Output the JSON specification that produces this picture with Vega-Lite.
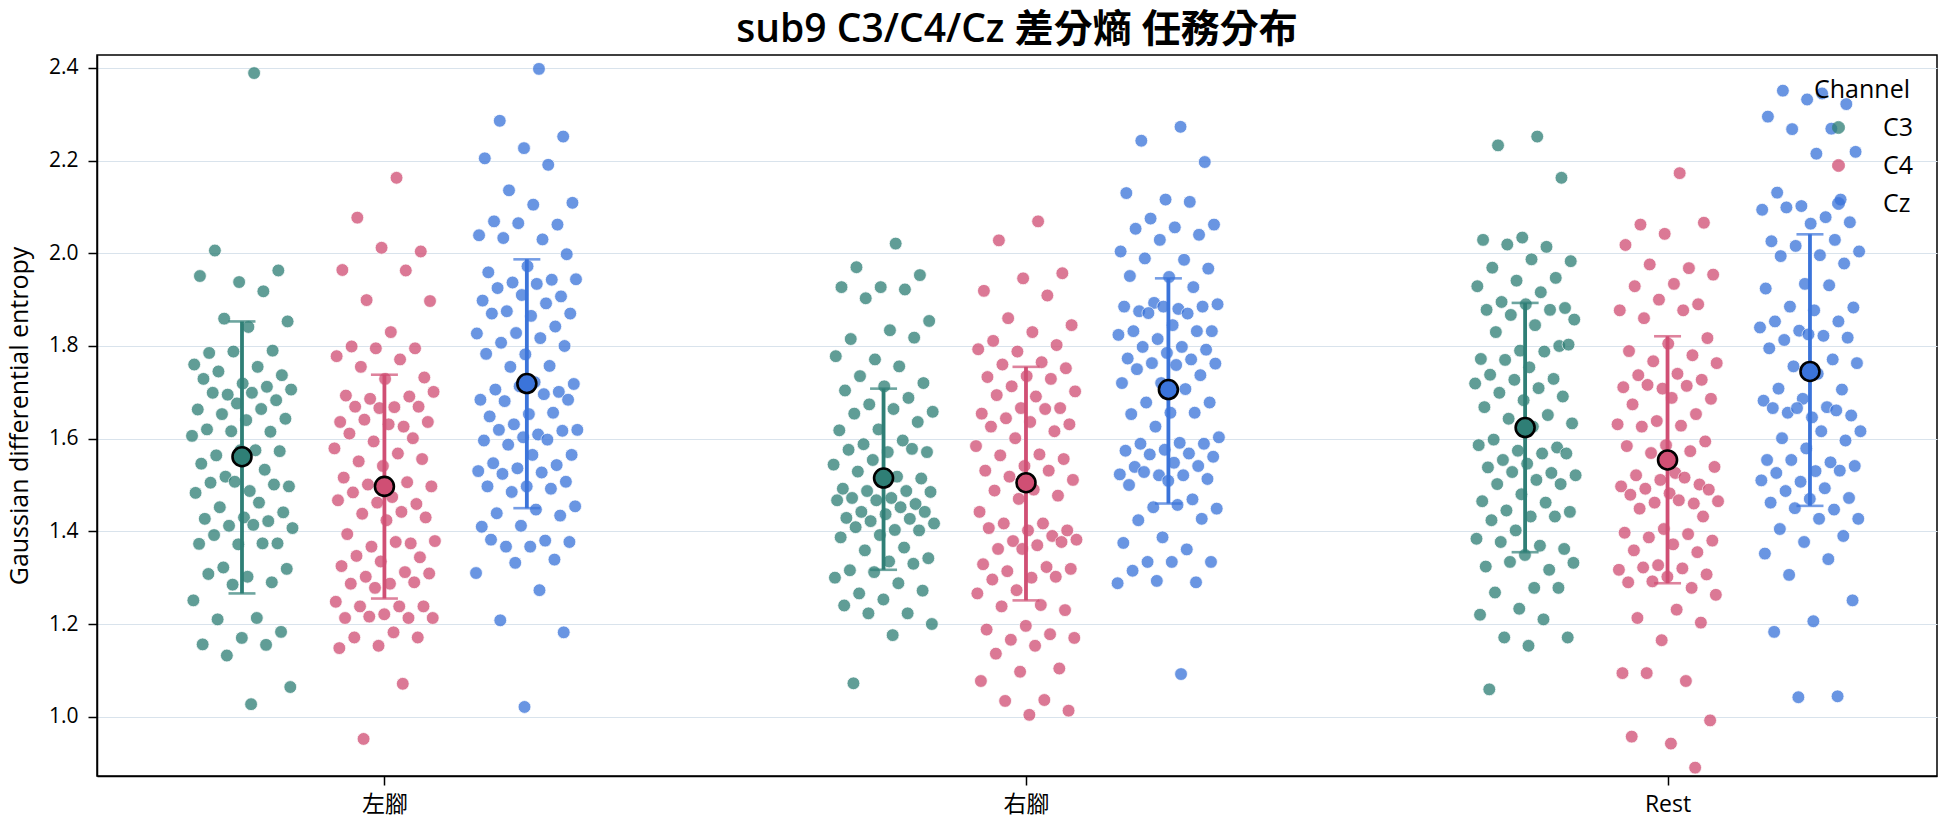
{
  "$schema": "https://vega.github.io/schema/vega-lite/v6.json",
  "width": 1840,
  "height": 721,
  "autosize": {"type": "none"},
  "padding": {"left": 97, "top": 55, "right": 7, "bottom": 51},
  "background": "white",
  "title": {
    "text": "sub9 C3/C4/Cz 差分熵 任務分布",
    "font": "Open Sans, Noto Sans CJK TC",
    "fontSize": 39,
    "fontWeight": 600,
    "color": "black",
    "anchor": "middle",
    "offset": 5
  },
  "config": {
    "view": {"stroke": "black", "strokeWidth": 1.5},
    "axis": {
      "labelFont": "Open Sans, Noto Sans CJK TC",
      "titleFont": "Open Sans, Noto Sans CJK TC",
      "labelFontSize": 21,
      "titleFontSize": 25,
      "titleFontWeight": "normal",
      "labelColor": "black",
      "titleColor": "black",
      "domainColor": "black",
      "domainWidth": 1.5,
      "tickColor": "black",
      "tickWidth": 1.5,
      "tickSize": 9
    },
    "legend": {
      "labelFont": "Open Sans",
      "titleFont": "Open Sans"
    }
  },
  "datasets": {
    "pts": [
      {"task":"左腳","ch":"C3","v":2.389},{"task":"左腳","ch":"C3","v":2.006},{"task":"左腳","ch":"C3","v":1.963},{"task":"左腳","ch":"C3","v":1.938},{"task":"左腳","ch":"C3","v":1.951},{"task":"左腳","ch":"C3","v":1.918},{"task":"左腳","ch":"C3","v":1.859},{"task":"左腳","ch":"C3","v":1.853},{"task":"左腳","ch":"C3","v":1.841},{"task":"左腳","ch":"C3","v":1.785},
      {"task":"左腳","ch":"C3","v":1.790},{"task":"左腳","ch":"C3","v":1.788},{"task":"左腳","ch":"C3","v":1.760},{"task":"左腳","ch":"C3","v":1.755},{"task":"左腳","ch":"C3","v":1.745},{"task":"左腳","ch":"C3","v":1.737},{"task":"左腳","ch":"C3","v":1.719},{"task":"左腳","ch":"C3","v":1.729},{"task":"左腳","ch":"C3","v":1.712},{"task":"左腳","ch":"C3","v":1.695},
      {"task":"左腳","ch":"C3","v":1.706},{"task":"左腳","ch":"C3","v":1.699},{"task":"左腳","ch":"C3","v":1.699},{"task":"左腳","ch":"C3","v":1.683},{"task":"左腳","ch":"C3","v":1.676},{"task":"左腳","ch":"C3","v":1.663},{"task":"左腳","ch":"C3","v":1.664},{"task":"左腳","ch":"C3","v":1.653},{"task":"左腳","ch":"C3","v":1.643},{"task":"左腳","ch":"C3","v":1.640},
      {"task":"左腳","ch":"C3","v":1.620},{"task":"左腳","ch":"C3","v":1.615},{"task":"左腳","ch":"C3","v":1.616},{"task":"左腳","ch":"C3","v":1.606},{"task":"左腳","ch":"C3","v":1.575},{"task":"左腳","ch":"C3","v":1.564},{"task":"左腳","ch":"C3","v":1.573},{"task":"左腳","ch":"C3","v":1.575},{"task":"左腳","ch":"C3","v":1.546},{"task":"左腳","ch":"C3","v":1.533},
      {"task":"左腳","ch":"C3","v":1.518},{"task":"左腳","ch":"C3","v":1.497},{"task":"左腳","ch":"C3","v":1.487},{"task":"左腳","ch":"C3","v":1.505},{"task":"左腳","ch":"C3","v":1.501},{"task":"左腳","ch":"C3","v":1.507},{"task":"左腳","ch":"C3","v":1.483},{"task":"左腳","ch":"C3","v":1.462},{"task":"左腳","ch":"C3","v":1.452},{"task":"左腳","ch":"C3","v":1.441},
      {"task":"左腳","ch":"C3","v":1.430},{"task":"左腳","ch":"C3","v":1.427},{"task":"左腳","ch":"C3","v":1.422},{"task":"左腳","ch":"C3","v":1.412},{"task":"左腳","ch":"C3","v":1.407},{"task":"左腳","ch":"C3","v":1.414},{"task":"左腳","ch":"C3","v":1.392},{"task":"左腳","ch":"C3","v":1.374},{"task":"左腳","ch":"C3","v":1.372},{"task":"左腳","ch":"C3","v":1.373},
      {"task":"左腳","ch":"C3","v":1.374},{"task":"左腳","ch":"C3","v":1.322},{"task":"左腳","ch":"C3","v":1.319},{"task":"左腳","ch":"C3","v":1.302},{"task":"左腳","ch":"C3","v":1.308},{"task":"左腳","ch":"C3","v":1.290},{"task":"左腳","ch":"C3","v":1.285},{"task":"左腳","ch":"C3","v":1.251},{"task":"左腳","ch":"C3","v":1.213},{"task":"左腳","ch":"C3","v":1.210},
      {"task":"左腳","ch":"C3","v":1.183},{"task":"左腳","ch":"C3","v":1.170},{"task":"左腳","ch":"C3","v":1.156},{"task":"左腳","ch":"C3","v":1.155},{"task":"左腳","ch":"C3","v":1.132},{"task":"左腳","ch":"C3","v":1.064},{"task":"左腳","ch":"C3","v":1.027},

      {"task":"左腳","ch":"C4","v":2.163},{"task":"左腳","ch":"C4","v":2.077},{"task":"左腳","ch":"C4","v":2.004},{"task":"左腳","ch":"C4","v":2.012},{"task":"左腳","ch":"C4","v":1.964},{"task":"左腳","ch":"C4","v":1.963},{"task":"左腳","ch":"C4","v":1.899},{"task":"左腳","ch":"C4","v":1.897},{"task":"左腳","ch":"C4","v":1.830},{"task":"左腳","ch":"C4","v":1.799},
      {"task":"左腳","ch":"C4","v":1.795},{"task":"左腳","ch":"C4","v":1.795},{"task":"左腳","ch":"C4","v":1.778},{"task":"左腳","ch":"C4","v":1.771},{"task":"左腳","ch":"C4","v":1.755},{"task":"左腳","ch":"C4","v":1.732},{"task":"左腳","ch":"C4","v":1.729},{"task":"左腳","ch":"C4","v":1.693},{"task":"左腳","ch":"C4","v":1.691},{"task":"左腳","ch":"C4","v":1.686},
      {"task":"左腳","ch":"C4","v":1.701},{"task":"左腳","ch":"C4","v":1.668},{"task":"左腳","ch":"C4","v":1.669},{"task":"左腳","ch":"C4","v":1.669},{"task":"左腳","ch":"C4","v":1.666},{"task":"左腳","ch":"C4","v":1.636},{"task":"左腳","ch":"C4","v":1.626},{"task":"左腳","ch":"C4","v":1.641},{"task":"左腳","ch":"C4","v":1.636},{"task":"左腳","ch":"C4","v":1.631},
      {"task":"左腳","ch":"C4","v":1.611},{"task":"左腳","ch":"C4","v":1.601},{"task":"左腳","ch":"C4","v":1.594},{"task":"左腳","ch":"C4","v":1.579},{"task":"左腳","ch":"C4","v":1.568},{"task":"左腳","ch":"C4","v":1.551},{"task":"左腳","ch":"C4","v":1.556},{"task":"左腳","ch":"C4","v":1.541},{"task":"左腳","ch":"C4","v":1.516},{"task":"左腳","ch":"C4","v":1.506},
      {"task":"左腳","ch":"C4","v":1.501},{"task":"左腳","ch":"C4","v":1.497},{"task":"左腳","ch":"C4","v":1.474},{"task":"左腳","ch":"C4","v":1.484},{"task":"左腳","ch":"C4","v":1.459},{"task":"左腳","ch":"C4","v":1.462},{"task":"左腳","ch":"C4","v":1.467},{"task":"左腳","ch":"C4","v":1.442},{"task":"左腳","ch":"C4","v":1.438},{"task":"左腳","ch":"C4","v":1.430},
      {"task":"左腳","ch":"C4","v":1.424},{"task":"左腳","ch":"C4","v":1.394},{"task":"左腳","ch":"C4","v":1.374},{"task":"左腳","ch":"C4","v":1.367},{"task":"左腳","ch":"C4","v":1.379},{"task":"左腳","ch":"C4","v":1.377},{"task":"左腳","ch":"C4","v":1.347},{"task":"左腳","ch":"C4","v":1.344},{"task":"左腳","ch":"C4","v":1.335},{"task":"左腳","ch":"C4","v":1.325},
      {"task":"左腳","ch":"C4","v":1.312},{"task":"左腳","ch":"C4","v":1.302},{"task":"左腳","ch":"C4","v":1.309},{"task":"左腳","ch":"C4","v":1.287},{"task":"左腳","ch":"C4","v":1.287},{"task":"左腳","ch":"C4","v":1.290},{"task":"左腳","ch":"C4","v":1.278},{"task":"左腳","ch":"C4","v":1.248},{"task":"左腳","ch":"C4","v":1.238},{"task":"左腳","ch":"C4","v":1.238},
      {"task":"左腳","ch":"C4","v":1.238},{"task":"左腳","ch":"C4","v":1.221},{"task":"左腳","ch":"C4","v":1.213},{"task":"左腳","ch":"C4","v":1.213},{"task":"左腳","ch":"C4","v":1.216},{"task":"左腳","ch":"C4","v":1.213},{"task":"左腳","ch":"C4","v":1.182},{"task":"左腳","ch":"C4","v":1.171},{"task":"左腳","ch":"C4","v":1.171},{"task":"左腳","ch":"C4","v":1.153},
      {"task":"左腳","ch":"C4","v":1.148},{"task":"左腳","ch":"C4","v":1.071},{"task":"左腳","ch":"C4","v":0.952},

      {"task":"左腳","ch":"Cz","v":2.398},{"task":"左腳","ch":"Cz","v":2.286},{"task":"左腳","ch":"Cz","v":2.252},{"task":"左腳","ch":"Cz","v":2.227},{"task":"左腳","ch":"Cz","v":2.205},{"task":"左腳","ch":"Cz","v":2.191},{"task":"左腳","ch":"Cz","v":2.136},{"task":"左腳","ch":"Cz","v":2.109},{"task":"左腳","ch":"Cz","v":2.105},{"task":"左腳","ch":"Cz","v":2.069},
      {"task":"左腳","ch":"Cz","v":2.062},{"task":"左腳","ch":"Cz","v":2.065},{"task":"左腳","ch":"Cz","v":2.039},{"task":"左腳","ch":"Cz","v":2.030},{"task":"左腳","ch":"Cz","v":2.033},{"task":"左腳","ch":"Cz","v":1.998},{"task":"左腳","ch":"Cz","v":1.972},{"task":"左腳","ch":"Cz","v":1.959},{"task":"左腳","ch":"Cz","v":1.943},{"task":"左腳","ch":"Cz","v":1.937},
      {"task":"左腳","ch":"Cz","v":1.944},{"task":"左腳","ch":"Cz","v":1.934},{"task":"左腳","ch":"Cz","v":1.925},{"task":"左腳","ch":"Cz","v":1.907},{"task":"左腳","ch":"Cz","v":1.910},{"task":"左腳","ch":"Cz","v":1.898},{"task":"左腳","ch":"Cz","v":1.892},{"task":"左腳","ch":"Cz","v":1.875},{"task":"左腳","ch":"Cz","v":1.870},{"task":"左腳","ch":"Cz","v":1.865},
      {"task":"左腳","ch":"Cz","v":1.870},{"task":"左腳","ch":"Cz","v":1.842},{"task":"左腳","ch":"Cz","v":1.828},{"task":"左腳","ch":"Cz","v":1.827},{"task":"左腳","ch":"Cz","v":1.817},{"task":"左腳","ch":"Cz","v":1.807},{"task":"左腳","ch":"Cz","v":1.800},{"task":"左腳","ch":"Cz","v":1.782},{"task":"左腳","ch":"Cz","v":1.783},{"task":"左腳","ch":"Cz","v":1.757},
      {"task":"左腳","ch":"Cz","v":1.755},{"task":"左腳","ch":"Cz","v":1.718},{"task":"左腳","ch":"Cz","v":1.722},{"task":"左腳","ch":"Cz","v":1.706},{"task":"左腳","ch":"Cz","v":1.701},{"task":"左腳","ch":"Cz","v":1.713},{"task":"左腳","ch":"Cz","v":1.684},{"task":"左腳","ch":"Cz","v":1.696},{"task":"左腳","ch":"Cz","v":1.681},{"task":"左腳","ch":"Cz","v":1.684},
      {"task":"左腳","ch":"Cz","v":1.653},{"task":"左腳","ch":"Cz","v":1.648},{"task":"左腳","ch":"Cz","v":1.656},{"task":"左腳","ch":"Cz","v":1.631},{"task":"左腳","ch":"Cz","v":1.619},{"task":"左腳","ch":"Cz","v":1.609},{"task":"左腳","ch":"Cz","v":1.619},{"task":"左腳","ch":"Cz","v":1.617},{"task":"左腳","ch":"Cz","v":1.603},{"task":"左腳","ch":"Cz","v":1.596},
      {"task":"左腳","ch":"Cz","v":1.598},{"task":"左腳","ch":"Cz","v":1.587},{"task":"左腳","ch":"Cz","v":1.565},{"task":"左腳","ch":"Cz","v":1.565},{"task":"左腳","ch":"Cz","v":1.547},{"task":"左腳","ch":"Cz","v":1.543},{"task":"左腳","ch":"Cz","v":1.536},{"task":"左腳","ch":"Cz","v":1.530},{"task":"左腳","ch":"Cz","v":1.527},{"task":"左腳","ch":"Cz","v":1.524},
      {"task":"左腳","ch":"Cz","v":1.507},{"task":"左腳","ch":"Cz","v":1.497},{"task":"左腳","ch":"Cz","v":1.497},{"task":"左腳","ch":"Cz","v":1.492},{"task":"左腳","ch":"Cz","v":1.485},{"task":"左腳","ch":"Cz","v":1.454},{"task":"左腳","ch":"Cz","v":1.447},{"task":"左腳","ch":"Cz","v":1.439},{"task":"左腳","ch":"Cz","v":1.434},{"task":"左腳","ch":"Cz","v":1.412},
      {"task":"左腳","ch":"Cz","v":1.410},{"task":"左腳","ch":"Cz","v":1.380},{"task":"左腳","ch":"Cz","v":1.367},{"task":"左腳","ch":"Cz","v":1.377},{"task":"左腳","ch":"Cz","v":1.367},{"task":"左腳","ch":"Cz","v":1.382},{"task":"左腳","ch":"Cz","v":1.339},{"task":"左腳","ch":"Cz","v":1.332},{"task":"左腳","ch":"Cz","v":1.310},{"task":"左腳","ch":"Cz","v":1.273},
      {"task":"左腳","ch":"Cz","v":1.208},{"task":"左腳","ch":"Cz","v":1.182},{"task":"左腳","ch":"Cz","v":1.021},

      {"task":"右腳","ch":"C3","v":2.021},{"task":"右腳","ch":"C3","v":1.970},{"task":"右腳","ch":"C3","v":1.953},{"task":"右腳","ch":"C3","v":1.927},{"task":"右腳","ch":"C3","v":1.927},{"task":"右腳","ch":"C3","v":1.922},{"task":"右腳","ch":"C3","v":1.903},{"task":"右腳","ch":"C3","v":1.854},{"task":"右腳","ch":"C3","v":1.834},{"task":"右腳","ch":"C3","v":1.815},
      {"task":"右腳","ch":"C3","v":1.818},{"task":"右腳","ch":"C3","v":1.771},{"task":"右腳","ch":"C3","v":1.778},{"task":"右腳","ch":"C3","v":1.756},{"task":"右腳","ch":"C3","v":1.735},{"task":"右腳","ch":"C3","v":1.720},{"task":"右腳","ch":"C3","v":1.713},{"task":"右腳","ch":"C3","v":1.704},{"task":"右腳","ch":"C3","v":1.688},{"task":"右腳","ch":"C3","v":1.674},
      {"task":"右腳","ch":"C3","v":1.658},{"task":"右腳","ch":"C3","v":1.664},{"task":"右腳","ch":"C3","v":1.654},{"task":"右腳","ch":"C3","v":1.636},{"task":"右腳","ch":"C3","v":1.620},{"task":"右腳","ch":"C3","v":1.618},{"task":"右腳","ch":"C3","v":1.596},{"task":"右腳","ch":"C3","v":1.588},{"task":"右腳","ch":"C3","v":1.571},{"task":"右腳","ch":"C3","v":1.571},
      {"task":"右腳","ch":"C3","v":1.576},{"task":"右腳","ch":"C3","v":1.578},{"task":"右腳","ch":"C3","v":1.554},{"task":"右腳","ch":"C3","v":1.544},{"task":"右腳","ch":"C3","v":1.518},{"task":"右腳","ch":"C3","v":1.529},{"task":"右腳","ch":"C3","v":1.514},{"task":"右腳","ch":"C3","v":1.509},{"task":"右腳","ch":"C3","v":1.492},{"task":"右腳","ch":"C3","v":1.487},
      {"task":"右腳","ch":"C3","v":1.487},{"task":"右腳","ch":"C3","v":1.485},{"task":"右腳","ch":"C3","v":1.472},{"task":"右腳","ch":"C3","v":1.472},{"task":"右腳","ch":"C3","v":1.459},{"task":"右腳","ch":"C3","v":1.467},{"task":"右腳","ch":"C3","v":1.467},{"task":"右腳","ch":"C3","v":1.452},{"task":"右腳","ch":"C3","v":1.442},{"task":"右腳","ch":"C3","v":1.442},
      {"task":"右腳","ch":"C3","v":1.437},{"task":"右腳","ch":"C3","v":1.429},{"task":"右腳","ch":"C3","v":1.427},{"task":"右腳","ch":"C3","v":1.422},{"task":"右腳","ch":"C3","v":1.417},{"task":"右腳","ch":"C3","v":1.403},{"task":"右腳","ch":"C3","v":1.409},{"task":"右腳","ch":"C3","v":1.402},{"task":"右腳","ch":"C3","v":1.392},{"task":"右腳","ch":"C3","v":1.387},
      {"task":"右腳","ch":"C3","v":1.365},{"task":"右腳","ch":"C3","v":1.359},{"task":"右腳","ch":"C3","v":1.342},{"task":"右腳","ch":"C3","v":1.335},{"task":"右腳","ch":"C3","v":1.316},{"task":"右腳","ch":"C3","v":1.330},{"task":"右腳","ch":"C3","v":1.312},{"task":"右腳","ch":"C3","v":1.300},{"task":"右腳","ch":"C3","v":1.288},{"task":"右腳","ch":"C3","v":1.266},
      {"task":"右腳","ch":"C3","v":1.272},{"task":"右腳","ch":"C3","v":1.253},{"task":"右腳","ch":"C3","v":1.240},{"task":"右腳","ch":"C3","v":1.223},{"task":"右腳","ch":"C3","v":1.223},{"task":"右腳","ch":"C3","v":1.200},{"task":"右腳","ch":"C3","v":1.176},{"task":"右腳","ch":"C3","v":1.072},

      {"task":"右腳","ch":"C4","v":2.069},{"task":"右腳","ch":"C4","v":2.028},{"task":"右腳","ch":"C4","v":1.957},{"task":"右腳","ch":"C4","v":1.946},{"task":"右腳","ch":"C4","v":1.919},{"task":"右腳","ch":"C4","v":1.909},{"task":"右腳","ch":"C4","v":1.860},{"task":"右腳","ch":"C4","v":1.845},{"task":"右腳","ch":"C4","v":1.830},{"task":"右腳","ch":"C4","v":1.811},
      {"task":"右腳","ch":"C4","v":1.802},{"task":"右腳","ch":"C4","v":1.788},{"task":"右腳","ch":"C4","v":1.793},{"task":"右腳","ch":"C4","v":1.765},{"task":"右腳","ch":"C4","v":1.760},{"task":"右腳","ch":"C4","v":1.752},{"task":"右腳","ch":"C4","v":1.735},{"task":"右腳","ch":"C4","v":1.733},{"task":"右腳","ch":"C4","v":1.729},{"task":"右腳","ch":"C4","v":1.713},
      {"task":"右腳","ch":"C4","v":1.702},{"task":"右腳","ch":"C4","v":1.691},{"task":"右腳","ch":"C4","v":1.694},{"task":"右腳","ch":"C4","v":1.666},{"task":"右腳","ch":"C4","v":1.666},{"task":"右腳","ch":"C4","v":1.654},{"task":"右腳","ch":"C4","v":1.664},{"task":"右腳","ch":"C4","v":1.644},{"task":"右腳","ch":"C4","v":1.631},{"task":"右腳","ch":"C4","v":1.636},
      {"task":"右腳","ch":"C4","v":1.626},{"task":"右腳","ch":"C4","v":1.616},{"task":"右腳","ch":"C4","v":1.601},{"task":"右腳","ch":"C4","v":1.584},{"task":"右腳","ch":"C4","v":1.566},{"task":"右腳","ch":"C4","v":1.564},{"task":"右腳","ch":"C4","v":1.556},{"task":"右腳","ch":"C4","v":1.541},{"task":"右腳","ch":"C4","v":1.531},{"task":"右腳","ch":"C4","v":1.531},
      {"task":"右腳","ch":"C4","v":1.518},{"task":"右腳","ch":"C4","v":1.511},{"task":"右腳","ch":"C4","v":1.490},{"task":"右腳","ch":"C4","v":1.488},{"task":"右腳","ch":"C4","v":1.477},{"task":"右腳","ch":"C4","v":1.470},{"task":"右腳","ch":"C4","v":1.442},{"task":"右腳","ch":"C4","v":1.417},{"task":"右腳","ch":"C4","v":1.417},{"task":"右腳","ch":"C4","v":1.402},
      {"task":"右腳","ch":"C4","v":1.402},{"task":"右腳","ch":"C4","v":1.407},{"task":"右腳","ch":"C4","v":1.390},{"task":"右腳","ch":"C4","v":1.379},{"task":"右腳","ch":"C4","v":1.382},{"task":"右腳","ch":"C4","v":1.370},{"task":"右腳","ch":"C4","v":1.362},{"task":"右腳","ch":"C4","v":1.377},{"task":"右腳","ch":"C4","v":1.362},{"task":"右腳","ch":"C4","v":1.329},
      {"task":"右腳","ch":"C4","v":1.323},{"task":"右腳","ch":"C4","v":1.314},{"task":"右腳","ch":"C4","v":1.319},{"task":"右腳","ch":"C4","v":1.300},{"task":"右腳","ch":"C4","v":1.296},{"task":"右腳","ch":"C4","v":1.302},{"task":"右腳","ch":"C4","v":1.273},{"task":"右腳","ch":"C4","v":1.266},{"task":"右腳","ch":"C4","v":1.241},{"task":"右腳","ch":"C4","v":1.238},
      {"task":"右腳","ch":"C4","v":1.230},{"task":"右腳","ch":"C4","v":1.196},{"task":"右腳","ch":"C4","v":1.188},{"task":"右腳","ch":"C4","v":1.178},{"task":"右腳","ch":"C4","v":1.166},{"task":"右腳","ch":"C4","v":1.170},{"task":"右腳","ch":"C4","v":1.153},{"task":"右腳","ch":"C4","v":1.136},{"task":"右腳","ch":"C4","v":1.104},{"task":"右腳","ch":"C4","v":1.097},
      {"task":"右腳","ch":"C4","v":1.077},{"task":"右腳","ch":"C4","v":1.036},{"task":"右腳","ch":"C4","v":1.034},{"task":"右腳","ch":"C4","v":1.013},{"task":"右腳","ch":"C4","v":1.004},

      {"task":"右腳","ch":"Cz","v":2.273},{"task":"右腳","ch":"Cz","v":2.243},{"task":"右腳","ch":"Cz","v":2.197},{"task":"右腳","ch":"Cz","v":2.116},{"task":"右腳","ch":"Cz","v":2.130},{"task":"右腳","ch":"Cz","v":2.111},{"task":"右腳","ch":"Cz","v":2.075},{"task":"右腳","ch":"Cz","v":2.062},{"task":"右腳","ch":"Cz","v":2.056},{"task":"右腳","ch":"Cz","v":2.053},
      {"task":"右腳","ch":"Cz","v":2.040},{"task":"右腳","ch":"Cz","v":2.029},{"task":"右腳","ch":"Cz","v":2.004},{"task":"右腳","ch":"Cz","v":1.986},{"task":"右腳","ch":"Cz","v":1.989},{"task":"右腳","ch":"Cz","v":1.967},{"task":"右腳","ch":"Cz","v":1.949},{"task":"右腳","ch":"Cz","v":1.951},{"task":"右腳","ch":"Cz","v":1.927},{"task":"右腳","ch":"Cz","v":1.893},
      {"task":"右腳","ch":"Cz","v":1.890},{"task":"右腳","ch":"Cz","v":1.880},{"task":"右腳","ch":"Cz","v":1.875},{"task":"右腳","ch":"Cz","v":1.885},{"task":"右腳","ch":"Cz","v":1.885},{"task":"右腳","ch":"Cz","v":1.885},{"task":"右腳","ch":"Cz","v":1.870},{"task":"右腳","ch":"Cz","v":1.871},{"task":"右腳","ch":"Cz","v":1.832},{"task":"右腳","ch":"Cz","v":1.845},
      {"task":"右腳","ch":"Cz","v":1.832},{"task":"右腳","ch":"Cz","v":1.832},{"task":"右腳","ch":"Cz","v":1.815},{"task":"右腳","ch":"Cz","v":1.824},{"task":"右腳","ch":"Cz","v":1.798},{"task":"右腳","ch":"Cz","v":1.798},{"task":"右腳","ch":"Cz","v":1.792},{"task":"右腳","ch":"Cz","v":1.785},{"task":"右腳","ch":"Cz","v":1.773},{"task":"右腳","ch":"Cz","v":1.771},
      {"task":"右腳","ch":"Cz","v":1.763},{"task":"右腳","ch":"Cz","v":1.762},{"task":"右腳","ch":"Cz","v":1.759},{"task":"右腳","ch":"Cz","v":1.750},{"task":"右腳","ch":"Cz","v":1.737},{"task":"右腳","ch":"Cz","v":1.720},{"task":"右腳","ch":"Cz","v":1.720},{"task":"右腳","ch":"Cz","v":1.707},{"task":"右腳","ch":"Cz","v":1.678},{"task":"右腳","ch":"Cz","v":1.678},
      {"task":"右腳","ch":"Cz","v":1.656},{"task":"右腳","ch":"Cz","v":1.653},{"task":"右腳","ch":"Cz","v":1.656},{"task":"右腳","ch":"Cz","v":1.626},{"task":"右腳","ch":"Cz","v":1.603},{"task":"右腳","ch":"Cz","v":1.591},{"task":"右腳","ch":"Cz","v":1.589},{"task":"右腳","ch":"Cz","v":1.589},{"task":"右腳","ch":"Cz","v":1.576},{"task":"右腳","ch":"Cz","v":1.574},
      {"task":"右腳","ch":"Cz","v":1.568},{"task":"右腳","ch":"Cz","v":1.566},{"task":"右腳","ch":"Cz","v":1.561},{"task":"右腳","ch":"Cz","v":1.548},{"task":"右腳","ch":"Cz","v":1.539},{"task":"右腳","ch":"Cz","v":1.541},{"task":"右腳","ch":"Cz","v":1.521},{"task":"右腳","ch":"Cz","v":1.523},{"task":"右腳","ch":"Cz","v":1.521},{"task":"右腳","ch":"Cz","v":1.528},
      {"task":"右腳","ch":"Cz","v":1.513},{"task":"右腳","ch":"Cz","v":1.509},{"task":"右腳","ch":"Cz","v":1.500},{"task":"右腳","ch":"Cz","v":1.469},{"task":"右腳","ch":"Cz","v":1.452},{"task":"右腳","ch":"Cz","v":1.449},{"task":"右腳","ch":"Cz","v":1.457},{"task":"右腳","ch":"Cz","v":1.424},{"task":"右腳","ch":"Cz","v":1.427},{"task":"右腳","ch":"Cz","v":1.387},
      {"task":"右腳","ch":"Cz","v":1.375},{"task":"右腳","ch":"Cz","v":1.361},{"task":"右腳","ch":"Cz","v":1.334},{"task":"右腳","ch":"Cz","v":1.334},{"task":"右腳","ch":"Cz","v":1.334},{"task":"右腳","ch":"Cz","v":1.315},{"task":"右腳","ch":"Cz","v":1.290},{"task":"右腳","ch":"Cz","v":1.293},{"task":"右腳","ch":"Cz","v":1.288},{"task":"右腳","ch":"Cz","v":1.092},

      {"task":"Rest","ch":"C3","v":2.252},{"task":"Rest","ch":"C3","v":2.233},{"task":"Rest","ch":"C3","v":2.163},{"task":"Rest","ch":"C3","v":2.034},{"task":"Rest","ch":"C3","v":2.029},{"task":"Rest","ch":"C3","v":2.014},{"task":"Rest","ch":"C3","v":2.019},{"task":"Rest","ch":"C3","v":1.983},{"task":"Rest","ch":"C3","v":1.987},{"task":"Rest","ch":"C3","v":1.969},
      {"task":"Rest","ch":"C3","v":1.947},{"task":"Rest","ch":"C3","v":1.941},{"task":"Rest","ch":"C3","v":1.929},{"task":"Rest","ch":"C3","v":1.916},{"task":"Rest","ch":"C3","v":1.895},{"task":"Rest","ch":"C3","v":1.882},{"task":"Rest","ch":"C3","v":1.890},{"task":"Rest","ch":"C3","v":1.878},{"task":"Rest","ch":"C3","v":1.878},{"task":"Rest","ch":"C3","v":1.867},
      {"task":"Rest","ch":"C3","v":1.857},{"task":"Rest","ch":"C3","v":1.845},{"task":"Rest","ch":"C3","v":1.830},{"task":"Rest","ch":"C3","v":1.800},{"task":"Rest","ch":"C3","v":1.790},{"task":"Rest","ch":"C3","v":1.772},{"task":"Rest","ch":"C3","v":1.788},{"task":"Rest","ch":"C3","v":1.770},{"task":"Rest","ch":"C3","v":1.803},{"task":"Rest","ch":"C3","v":1.754},
      {"task":"Rest","ch":"C3","v":1.738},{"task":"Rest","ch":"C3","v":1.729},{"task":"Rest","ch":"C3","v":1.727},{"task":"Rest","ch":"C3","v":1.719},{"task":"Rest","ch":"C3","v":1.709},{"task":"Rest","ch":"C3","v":1.699},{"task":"Rest","ch":"C3","v":1.691},{"task":"Rest","ch":"C3","v":1.683},{"task":"Rest","ch":"C3","v":1.668},{"task":"Rest","ch":"C3","v":1.651},
      {"task":"Rest","ch":"C3","v":1.643},{"task":"Rest","ch":"C3","v":1.633},{"task":"Rest","ch":"C3","v":1.626},{"task":"Rest","ch":"C3","v":1.598},{"task":"Rest","ch":"C3","v":1.581},{"task":"Rest","ch":"C3","v":1.574},{"task":"Rest","ch":"C3","v":1.586},{"task":"Rest","ch":"C3","v":1.568},{"task":"Rest","ch":"C3","v":1.554},{"task":"Rest","ch":"C3","v":1.568},
      {"task":"Rest","ch":"C3","v":1.546},{"task":"Rest","ch":"C3","v":1.538},{"task":"Rest","ch":"C3","v":1.526},{"task":"Rest","ch":"C3","v":1.528},{"task":"Rest","ch":"C3","v":1.521},{"task":"Rest","ch":"C3","v":1.511},{"task":"Rest","ch":"C3","v":1.502},{"task":"Rest","ch":"C3","v":1.502},{"task":"Rest","ch":"C3","v":1.480},{"task":"Rest","ch":"C3","v":1.465},
      {"task":"Rest","ch":"C3","v":1.462},{"task":"Rest","ch":"C3","v":1.445},{"task":"Rest","ch":"C3","v":1.442},{"task":"Rest","ch":"C3","v":1.432},{"task":"Rest","ch":"C3","v":1.424},{"task":"Rest","ch":"C3","v":1.432},{"task":"Rest","ch":"C3","v":1.402},{"task":"Rest","ch":"C3","v":1.384},{"task":"Rest","ch":"C3","v":1.369},{"task":"Rest","ch":"C3","v":1.377},
      {"task":"Rest","ch":"C3","v":1.362},{"task":"Rest","ch":"C3","v":1.349},{"task":"Rest","ch":"C3","v":1.324},{"task":"Rest","ch":"C3","v":1.317},{"task":"Rest","ch":"C3","v":1.334},{"task":"Rest","ch":"C3","v":1.332},{"task":"Rest","ch":"C3","v":1.278},{"task":"Rest","ch":"C3","v":1.268},{"task":"Rest","ch":"C3","v":1.278},{"task":"Rest","ch":"C3","v":1.233},
      {"task":"Rest","ch":"C3","v":1.220},{"task":"Rest","ch":"C3","v":1.210},{"task":"Rest","ch":"C3","v":1.171},{"task":"Rest","ch":"C3","v":1.171},{"task":"Rest","ch":"C3","v":1.153},{"task":"Rest","ch":"C3","v":1.059},

      {"task":"Rest","ch":"C4","v":2.173},{"task":"Rest","ch":"C4","v":2.062},{"task":"Rest","ch":"C4","v":2.066},{"task":"Rest","ch":"C4","v":2.042},{"task":"Rest","ch":"C4","v":2.018},{"task":"Rest","ch":"C4","v":1.968},{"task":"Rest","ch":"C4","v":1.976},{"task":"Rest","ch":"C4","v":1.954},{"task":"Rest","ch":"C4","v":1.934},{"task":"Rest","ch":"C4","v":1.929},
      {"task":"Rest","ch":"C4","v":1.890},{"task":"Rest","ch":"C4","v":1.900},{"task":"Rest","ch":"C4","v":1.877},{"task":"Rest","ch":"C4","v":1.877},{"task":"Rest","ch":"C4","v":1.860},{"task":"Rest","ch":"C4","v":1.817},{"task":"Rest","ch":"C4","v":1.805},{"task":"Rest","ch":"C4","v":1.789},{"task":"Rest","ch":"C4","v":1.780},{"task":"Rest","ch":"C4","v":1.767},
      {"task":"Rest","ch":"C4","v":1.763},{"task":"Rest","ch":"C4","v":1.740},{"task":"Rest","ch":"C4","v":1.737},{"task":"Rest","ch":"C4","v":1.727},{"task":"Rest","ch":"C4","v":1.708},{"task":"Rest","ch":"C4","v":1.711},{"task":"Rest","ch":"C4","v":1.714},{"task":"Rest","ch":"C4","v":1.716},{"task":"Rest","ch":"C4","v":1.686},{"task":"Rest","ch":"C4","v":1.688},
      {"task":"Rest","ch":"C4","v":1.674},{"task":"Rest","ch":"C4","v":1.653},{"task":"Rest","ch":"C4","v":1.638},{"task":"Rest","ch":"C4","v":1.631},{"task":"Rest","ch":"C4","v":1.628},{"task":"Rest","ch":"C4","v":1.626},{"task":"Rest","ch":"C4","v":1.594},{"task":"Rest","ch":"C4","v":1.586},{"task":"Rest","ch":"C4","v":1.584},{"task":"Rest","ch":"C4","v":1.573},
      {"task":"Rest","ch":"C4","v":1.569},{"task":"Rest","ch":"C4","v":1.539},{"task":"Rest","ch":"C4","v":1.526},{"task":"Rest","ch":"C4","v":1.521},{"task":"Rest","ch":"C4","v":1.501},{"task":"Rest","ch":"C4","v":1.511},{"task":"Rest","ch":"C4","v":1.497},{"task":"Rest","ch":"C4","v":1.516},{"task":"Rest","ch":"C4","v":1.492},{"task":"Rest","ch":"C4","v":1.490},
      {"task":"Rest","ch":"C4","v":1.482},{"task":"Rest","ch":"C4","v":1.479},{"task":"Rest","ch":"C4","v":1.460},{"task":"Rest","ch":"C4","v":1.462},{"task":"Rest","ch":"C4","v":1.465},{"task":"Rest","ch":"C4","v":1.467},{"task":"Rest","ch":"C4","v":1.449},{"task":"Rest","ch":"C4","v":1.432},{"task":"Rest","ch":"C4","v":1.405},{"task":"Rest","ch":"C4","v":1.397},
      {"task":"Rest","ch":"C4","v":1.394},{"task":"Rest","ch":"C4","v":1.387},{"task":"Rest","ch":"C4","v":1.380},{"task":"Rest","ch":"C4","v":1.372},{"task":"Rest","ch":"C4","v":1.359},{"task":"Rest","ch":"C4","v":1.355},{"task":"Rest","ch":"C4","v":1.327},{"task":"Rest","ch":"C4","v":1.317},{"task":"Rest","ch":"C4","v":1.320},{"task":"Rest","ch":"C4","v":1.322},
      {"task":"Rest","ch":"C4","v":1.307},{"task":"Rest","ch":"C4","v":1.302},{"task":"Rest","ch":"C4","v":1.290},{"task":"Rest","ch":"C4","v":1.278},{"task":"Rest","ch":"C4","v":1.292},{"task":"Rest","ch":"C4","v":1.263},{"task":"Rest","ch":"C4","v":1.231},{"task":"Rest","ch":"C4","v":1.213},{"task":"Rest","ch":"C4","v":1.203},{"task":"Rest","ch":"C4","v":1.165},
      {"task":"Rest","ch":"C4","v":1.094},{"task":"Rest","ch":"C4","v":1.077},{"task":"Rest","ch":"C4","v":1.094},{"task":"Rest","ch":"C4","v":0.992},{"task":"Rest","ch":"C4","v":0.942},{"task":"Rest","ch":"C4","v":0.957},{"task":"Rest","ch":"C4","v":0.890},

      {"task":"Rest","ch":"Cz","v":2.345},{"task":"Rest","ch":"Cz","v":2.351},{"task":"Rest","ch":"Cz","v":2.322},{"task":"Rest","ch":"Cz","v":2.332},{"task":"Rest","ch":"Cz","v":2.295},{"task":"Rest","ch":"Cz","v":2.269},{"task":"Rest","ch":"Cz","v":2.268},{"task":"Rest","ch":"Cz","v":2.219},{"task":"Rest","ch":"Cz","v":2.215},{"task":"Rest","ch":"Cz","v":2.131},
      {"task":"Rest","ch":"Cz","v":2.116},{"task":"Rest","ch":"Cz","v":2.102},{"task":"Rest","ch":"Cz","v":2.094},{"task":"Rest","ch":"Cz","v":2.078},{"task":"Rest","ch":"Cz","v":2.099},{"task":"Rest","ch":"Cz","v":2.067},{"task":"Rest","ch":"Cz","v":2.064},{"task":"Rest","ch":"Cz","v":2.026},{"task":"Rest","ch":"Cz","v":2.029},{"task":"Rest","ch":"Cz","v":2.016},
      {"task":"Rest","ch":"Cz","v":2.004},{"task":"Rest","ch":"Cz","v":1.996},{"task":"Rest","ch":"Cz","v":1.994},{"task":"Rest","ch":"Cz","v":1.978},{"task":"Rest","ch":"Cz","v":1.934},{"task":"Rest","ch":"Cz","v":1.924},{"task":"Rest","ch":"Cz","v":1.931},{"task":"Rest","ch":"Cz","v":1.885},{"task":"Rest","ch":"Cz","v":1.883},{"task":"Rest","ch":"Cz","v":1.877},
      {"task":"Rest","ch":"Cz","v":1.853},{"task":"Rest","ch":"Cz","v":1.853},{"task":"Rest","ch":"Cz","v":1.833},{"task":"Rest","ch":"Cz","v":1.840},{"task":"Rest","ch":"Cz","v":1.822},{"task":"Rest","ch":"Cz","v":1.813},{"task":"Rest","ch":"Cz","v":1.818},{"task":"Rest","ch":"Cz","v":1.825},{"task":"Rest","ch":"Cz","v":1.795},{"task":"Rest","ch":"Cz","v":1.771},
      {"task":"Rest","ch":"Cz","v":1.756},{"task":"Rest","ch":"Cz","v":1.763},{"task":"Rest","ch":"Cz","v":1.740},{"task":"Rest","ch":"Cz","v":1.708},{"task":"Rest","ch":"Cz","v":1.706},{"task":"Rest","ch":"Cz","v":1.686},{"task":"Rest","ch":"Cz","v":1.682},{"task":"Rest","ch":"Cz","v":1.668},{"task":"Rest","ch":"Cz","v":1.656},{"task":"Rest","ch":"Cz","v":1.650},
      {"task":"Rest","ch":"Cz","v":1.646},{"task":"Rest","ch":"Cz","v":1.666},{"task":"Rest","ch":"Cz","v":1.661},{"task":"Rest","ch":"Cz","v":1.666},{"task":"Rest","ch":"Cz","v":1.616},{"task":"Rest","ch":"Cz","v":1.616},{"task":"Rest","ch":"Cz","v":1.601},{"task":"Rest","ch":"Cz","v":1.596},{"task":"Rest","ch":"Cz","v":1.579},{"task":"Rest","ch":"Cz","v":1.554},
      {"task":"Rest","ch":"Cz","v":1.549},{"task":"Rest","ch":"Cz","v":1.554},{"task":"Rest","ch":"Cz","v":1.541},{"task":"Rest","ch":"Cz","v":1.530},{"task":"Rest","ch":"Cz","v":1.526},{"task":"Rest","ch":"Cz","v":1.531},{"task":"Rest","ch":"Cz","v":1.507},{"task":"Rest","ch":"Cz","v":1.510},{"task":"Rest","ch":"Cz","v":1.493},{"task":"Rest","ch":"Cz","v":1.487},
      {"task":"Rest","ch":"Cz","v":1.472},{"task":"Rest","ch":"Cz","v":1.470},{"task":"Rest","ch":"Cz","v":1.462},{"task":"Rest","ch":"Cz","v":1.447},{"task":"Rest","ch":"Cz","v":1.450},{"task":"Rest","ch":"Cz","v":1.427},{"task":"Rest","ch":"Cz","v":1.427},{"task":"Rest","ch":"Cz","v":1.405},{"task":"Rest","ch":"Cz","v":1.390},{"task":"Rest","ch":"Cz","v":1.377},
      {"task":"Rest","ch":"Cz","v":1.352},{"task":"Rest","ch":"Cz","v":1.340},{"task":"Rest","ch":"Cz","v":1.306},{"task":"Rest","ch":"Cz","v":1.251},{"task":"Rest","ch":"Cz","v":1.206},{"task":"Rest","ch":"Cz","v":1.183},{"task":"Rest","ch":"Cz","v":1.044},{"task":"Rest","ch":"Cz","v":1.042}
    ],
    "stats": [
      {"task":"左腳","ch":"C3","mean":1.561,"lo":1.266,"hi":1.853},
      {"task":"左腳","ch":"C4","mean":1.497,"lo":1.255,"hi":1.738},
      {"task":"左腳","ch":"Cz","mean":1.719,"lo":1.450,"hi":1.987},
      {"task":"右腳","ch":"C3","mean":1.515,"lo":1.317,"hi":1.708},
      {"task":"右腳","ch":"C4","mean":1.505,"lo":1.251,"hi":1.755},
      {"task":"右腳","ch":"Cz","mean":1.706,"lo":1.460,"hi":1.946},
      {"task":"Rest","ch":"C3","mean":1.624,"lo":1.355,"hi":1.893},
      {"task":"Rest","ch":"C4","mean":1.554,"lo":1.288,"hi":1.821},
      {"task":"Rest","ch":"Cz","mean":1.745,"lo":1.455,"hi":2.041}
    ]
  },
  "layer": [
    {
      "data": {"name": "pts"},
      "transform": [
        {"window": [{"op": "row_number", "as": "idx"}], "groupby": ["task", "ch"]},
        {"calculate": "indexof(['左腳','右腳','Rest'], datum.task) + (datum.ch === 'C3' ? -0.222 : datum.ch === 'C4' ? 0 : 0.222) + ((datum.idx * 0.6180339887) % 1 - 0.5) * 0.16", "as": "xpos"}
      ],
      "mark": {"type": "circle", "size": 165, "opacity": 0.76, "stroke": "white", "strokeWidth": 0.8},
      "encoding": {
        "x": {
          "field": "xpos",
          "type": "quantitative",
          "scale": {"domain": [-0.448, 2.42], "nice": false, "zero": false},
          "axis": {
            "title": null,
            "values": [0, 1, 2],
            "labelExpr": "['左腳','右腳','Rest'][datum.value]",
            "labelFontSize": 23,
            "grid": false,
            "labelPadding": 8,
            "labelFlush": false
          }
        },
        "y": {
          "field": "v",
          "type": "quantitative",
          "scale": {"domain": [0.872, 2.428], "nice": false, "zero": false},
          "axis": {
            "title": "Gaussian differential entropy",
            "values": [1.0, 1.2, 1.4, 1.6, 1.8, 2.0, 2.2, 2.4],
            "format": ".1f",
            "grid": true,
            "gridColor": "#d9e3ec",
            "gridWidth": 1.2,
            "labelPadding": 10,
            "titlePadding": 16,
            "labelFlush": false
          }
        },
        "color": {
          "field": "ch",
          "type": "nominal",
          "scale": {"domain": ["C3", "C4", "Cz"], "range": ["#2f7f76", "#d04f74", "#3b74da"]},
          "legend": {
            "title": "Channel",
            "orient": "top-right",
            "offset": 23,
            "padding": 0,
            "titleFontSize": 25,
            "titleFontWeight": "normal",
            "titleColor": "black",
            "labelFontSize": 25,
            "labelColor": "black",
            "symbolSize": 150,
            "symbolType": "circle",
            "symbolOffset": 12,
            "labelOffset": 32,
            "rowPadding": 12,
            "titlePadding": 12,
            "symbolStrokeColor": "white",
            "symbolStrokeWidth": 0.8,
            "symbolOpacity": 0.76
          }
        }
      }
    },
    {
      "data": {"name": "stats"},
      "transform": [
        {"calculate": "indexof(['左腳','右腳','Rest'], datum.task) + (datum.ch === 'C3' ? -0.222 : datum.ch === 'C4' ? 0 : 0.222)", "as": "xpos"}
      ],
      "layer": [
        {
          "mark": {"type": "rule", "strokeWidth": 3.8},
          "encoding": {
            "x": {"field": "xpos", "type": "quantitative"},
            "y": {"field": "lo", "type": "quantitative"},
            "y2": {"field": "hi"},
            "color": {"field": "ch", "type": "nominal", "legend": null}
          }
        },
        {
          "mark": {"type": "tick", "orient": "horizontal", "size": 27, "thickness": 2.6},
          "encoding": {
            "x": {"field": "xpos", "type": "quantitative"},
            "y": {"field": "lo", "type": "quantitative"},
            "color": {"field": "ch", "type": "nominal", "legend": null}
          }
        },
        {
          "mark": {"type": "tick", "orient": "horizontal", "size": 27, "thickness": 2.6},
          "encoding": {
            "x": {"field": "xpos", "type": "quantitative"},
            "y": {"field": "hi", "type": "quantitative"},
            "color": {"field": "ch", "type": "nominal", "legend": null}
          }
        },
        {
          "mark": {"type": "circle", "size": 360, "opacity": 1, "stroke": "black", "strokeWidth": 2.6},
          "encoding": {
            "x": {"field": "xpos", "type": "quantitative"},
            "y": {"field": "mean", "type": "quantitative"},
            "color": {"field": "ch", "type": "nominal", "legend": null}
          }
        }
      ]
    }
  ]
}
